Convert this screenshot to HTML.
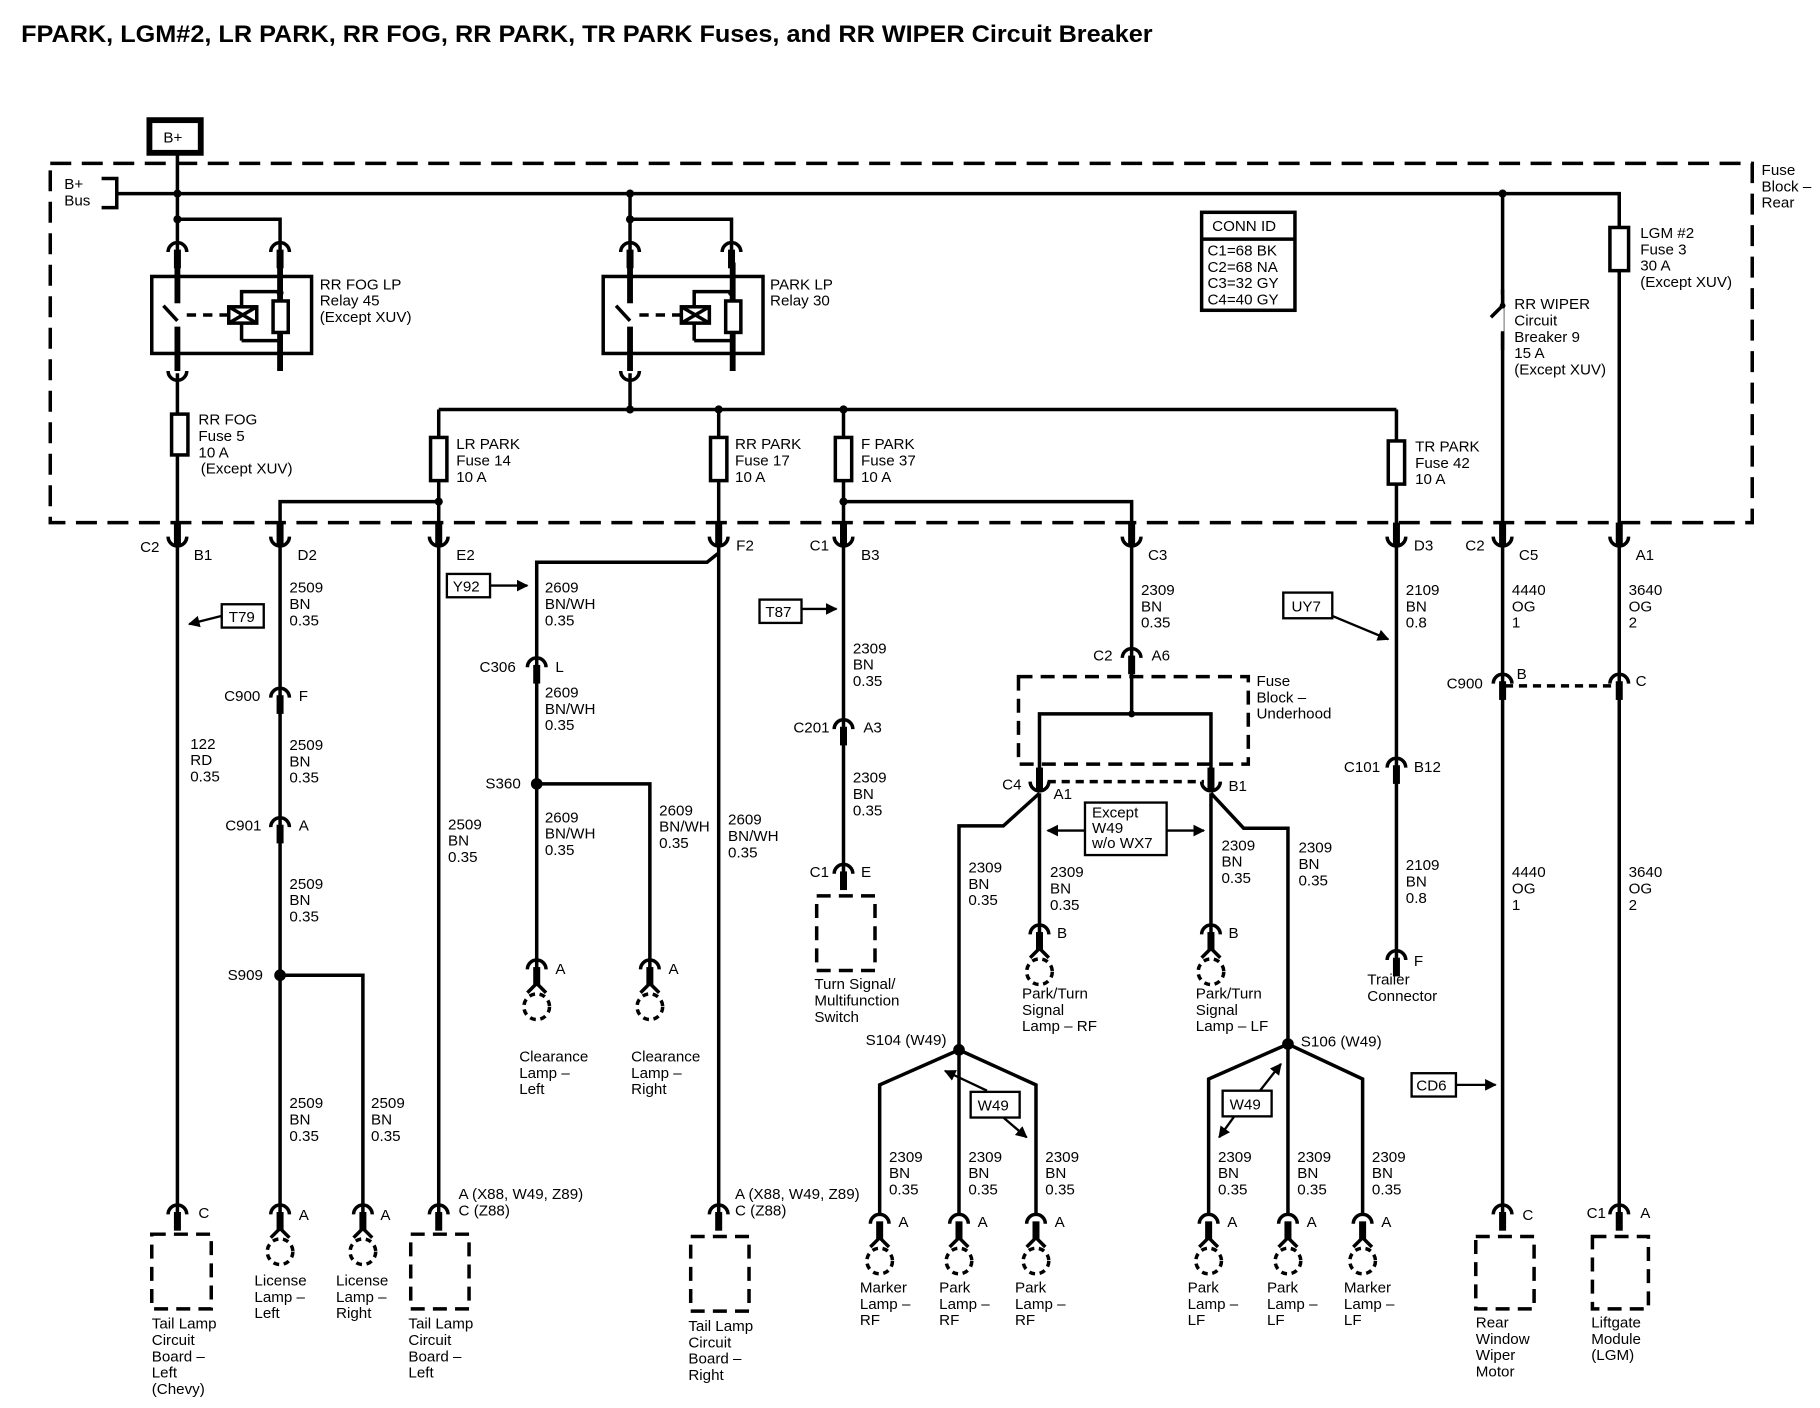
<!DOCTYPE html>
<html><head><meta charset="utf-8"><style>
html,body{margin:0;padding:0;background:#fff}
svg{display:block}
text{font-family:"Liberation Sans",sans-serif;font-size:13px;fill:#000}
</style></head><body>
<svg width="1820" height="1408" viewBox="0 0 1560 1207" xmlns="http://www.w3.org/2000/svg">
<defs>
<g id="up"><path d="M-8,-2 A8,8 0 0 0 8,-2" fill="none" stroke="#000" stroke-width="3"/><line x1="0" y1="-14" x2="0" y2="6" stroke="#000" stroke-width="6"/></g>
<g id="dn"><path d="M-8,6 A8,8 0 0 1 8,6" fill="none" stroke="#000" stroke-width="3"/><line x1="0" y1="4" x2="0" y2="20" stroke="#000" stroke-width="6"/></g>
<g id="lamp"><path d="M-8,6 A8,8 0 0 1 8,6" fill="none" stroke="#000" stroke-width="3"/><line x1="0" y1="4" x2="0" y2="20" stroke="#000" stroke-width="6"/><path d="M-8,26 L0,18 L8,26" fill="none" stroke="#000" stroke-width="3"/><circle cx="0" cy="38" r="11" fill="none" stroke="#000" stroke-width="3" stroke-dasharray="5,4"/></g>
<marker id="ar" viewBox="0 0 10 10" refX="9" refY="5" markerWidth="5" markerHeight="5" orient="auto"><path d="M0,0 L10,5 L0,10z"/></marker>
</defs>
<text x="18" y="36" style="font-size:21px;font-weight:bold" textLength="970" lengthAdjust="spacingAndGlyphs">FPARK, LGM#2, LR PARK, RR FOG, RR PARK, TR PARK Fuses, and RR WIPER Circuit Breaker</text>

<g fill="none" stroke="#000" stroke-width="3">
<rect x="128" y="103" width="44" height="28" stroke-width="5"/>
<rect x="43" y="140" width="1459" height="308" stroke-dasharray="18,9"/>
<path d="M87,153 H100 V178 H87"/>
<path d="M100,166 H1388 V195"/>
<path d="M152,131 V215 M152,188 H240 V215 M540,166 V215 M540,188 H627 V215"/>
<path d="M1288,166 V460"/>
<path d="M1388,232 V460"/>
<rect x="1380" y="195" width="16" height="37"/>
<rect x="130" y="237" width="137" height="66"/>
<rect x="517" y="237" width="137" height="66"/>
</g>
<text x="140" y="122" style="font-size:13px">B+</text>
<text x="55" y="162">B+<tspan x="55" dy="14">Bus</tspan></text>
<text x="1510" y="150">Fuse<tspan x="1510" dy="14">Block –</tspan><tspan x="1510" dy="14">Rear</tspan></text>

<g fill="none" stroke="#000" stroke-width="3">
<g id="rel">
<line x1="152" y1="225" x2="152" y2="260" stroke-width="5"/>
<line x1="152" y1="275" x2="140" y2="262"/>
<line x1="152" y1="280" x2="152" y2="318" stroke-width="5"/>
<line x1="240" y1="225" x2="240" y2="318" stroke-width="5"/>
<path d="M207,292 V250 H240 M207,292 H240"/>
<line x1="160" y1="270" x2="196" y2="270" stroke-dasharray="8,6"/>
<rect x="196" y="263" width="24" height="14" fill="#fff"/>
<path d="M196,263 L220,277 M220,263 L196,277"/>
<rect x="234" y="258" width="13" height="27" fill="#fff"/>
</g>
<use href="#rel" x="388"/>
</g>
<use href="#dn" x="152" y="210"/><use href="#dn" x="240" y="210"/>
<use href="#dn" x="540" y="210"/><use href="#dn" x="627" y="210"/>
<g fill="none" stroke="#000" stroke-width="3">
<path d="M144,318 A8,8 0 0 0 160,318 M532,318 A8,8 0 0 0 548,318"/>
<path d="M152,320 V460 M540,320 V351"/>
<path d="M376,351 H1197 M376,351 V460 M616,351 V460 M723,351 V460 M1197,351 V460"/>
<path d="M240,460 V430 H376 M723,430 H970 V460"/>
<rect x="147" y="355" width="14" height="35" fill="#fff"/>
<rect x="369" y="375" width="14" height="37" fill="#fff"/>
<rect x="609" y="375" width="14" height="37" fill="#fff"/>
<rect x="716" y="375" width="14" height="37" fill="#fff"/>
<rect x="1190" y="378" width="14" height="37" fill="#fff"/>
<rect x="1030" y="182" width="80" height="84"/>
<line x1="1030" y1="205" x2="1110" y2="205"/>
</g>
<path d="M1286,253 V286" stroke="#fff" stroke-width="6"/>
<path d="M1288,248 V262 L1278,272 M1288,284 V300" fill="none" stroke="#000" stroke-width="3"/>
<circle cx="1288" cy="262" r="2.5"/>
<g fill="#000">
<circle cx="152" cy="166" r="3.5"/><circle cx="152" cy="188" r="3.5"/>
<circle cx="540" cy="166" r="3.5"/><circle cx="540" cy="188" r="3.5"/>
<circle cx="540" cy="351" r="3.5"/><circle cx="616" cy="351" r="3.5"/><circle cx="723" cy="351" r="3.5"/>
<circle cx="376" cy="430" r="3.5"/><circle cx="723" cy="430" r="3.5"/><circle cx="1288" cy="166" r="3.5"/>
<circle cx="240" cy="251" r="3"/><circle cx="627" cy="251" r="3"/>
</g>
<text x="1039" y="198">CONN ID</text>
<text x="1035" y="219">C1=68 BK<tspan x="1035" dy="14">C2=68 NA</tspan><tspan x="1035" dy="14">C3=32 GY</tspan><tspan x="1035" dy="14">C4=40 GY</tspan></text>
<text x="274" y="248">RR FOG LP<tspan x="274" dy="14">Relay 45</tspan><tspan x="274" dy="14">(Except XUV)</tspan></text>
<text x="660" y="248">PARK LP<tspan x="660" dy="14">Relay 30</tspan></text>
<text x="170" y="364">RR FOG<tspan x="170" dy="14">Fuse 5</tspan><tspan x="170" dy="14">10 A</tspan><tspan x="172" dy="14">(Except XUV)</tspan></text>
<text x="391" y="385">LR PARK<tspan x="391" dy="14">Fuse 14</tspan><tspan x="391" dy="14">10 A</tspan></text>
<text x="630" y="385">RR PARK<tspan x="630" dy="14">Fuse 17</tspan><tspan x="630" dy="14">10 A</tspan></text>
<text x="738" y="385">F PARK<tspan x="738" dy="14">Fuse 37</tspan><tspan x="738" dy="14">10 A</tspan></text>
<text x="1213" y="387">TR PARK<tspan x="1213" dy="14">Fuse 42</tspan><tspan x="1213" dy="14">10 A</tspan></text>
<text x="1406" y="204">LGM #2<tspan x="1406" dy="14">Fuse 3</tspan><tspan x="1406" dy="14">30 A</tspan><tspan x="1406" dy="14">(Except XUV)</tspan></text>
<text x="1298" y="265">RR WIPER<tspan x="1298" dy="14">Circuit</tspan><tspan x="1298" dy="14">Breaker 9</tspan><tspan x="1298" dy="14">15 A</tspan><tspan x="1298" dy="14">(Except XUV)</tspan></text>

<g>
<use href="#up" x="152" y="462"/><use href="#up" x="240" y="462"/><use href="#up" x="376" y="462"/>
<use href="#up" x="616" y="462"/><use href="#up" x="723" y="462"/><use href="#up" x="970" y="462"/>
<use href="#up" x="1197" y="462"/><use href="#up" x="1288" y="462"/><use href="#up" x="1388" y="462"/>
</g>
<text x="120" y="473">C2</text><text x="166" y="480">B1</text><text x="255" y="480">D2</text>
<text x="391" y="480">E2</text><text x="631" y="472">F2</text><text x="694" y="472">C1</text>
<text x="738" y="480">B3</text><text x="984" y="480">C3</text><text x="1212" y="472">D3</text>
<text x="1256" y="472">C2</text><text x="1302" y="480">C5</text><text x="1402" y="480">A1</text>

<g fill="none" stroke="#000" stroke-width="3">
<path d="M152,468 V1040"/>
<path d="M240,468 V1040 M240,836 H311 V1040"/>
<path d="M376,468 V1040"/>
<path d="M616,468 V1040 M616,474 L606,482 H460 V830 M460,672 H557 V830"/>
<path d="M723,468 V748"/>
<path d="M970,468 V612 M891,660 V612 H1038 V660"/>
<path d="M891,680 L860,708 H822 V1040 M891,680 V800 M1038,680 V800 M1038,680 L1066,710 H1104 V1040"/>
<path d="M822,900 L754,930 V1040 M822,900 L888,930 V1040"/>
<path d="M1104,895 L1036,925 V1040 M1104,895 L1168,925 V1040"/>
<path d="M1197,468 V822"/>
<path d="M1288,468 V1040 M1388,468 V1040"/>
<rect x="873" y="580" width="197" height="75" stroke-dasharray="12,7"/>
<path d="M898,670 H1032 M1290,588 H1386" stroke-dasharray="7,5"/>
<rect x="700" y="768" width="50" height="64" stroke-dasharray="12,7"/>
<rect x="130" y="1058" width="51" height="64" stroke-dasharray="12,7"/>
<rect x="352" y="1058" width="50" height="64" stroke-dasharray="12,7"/>
<rect x="592" y="1060" width="50" height="64" stroke-dasharray="12,7"/>
<rect x="1265" y="1060" width="50" height="62" stroke-dasharray="12,7"/>
<rect x="1365" y="1060" width="48" height="62" stroke-dasharray="12,7"/>
<rect x="190" y="518" width="36" height="20" stroke-width="2"/>
<rect x="383" y="492" width="37" height="20" stroke-width="2"/>
<rect x="651" y="514" width="36" height="20" stroke-width="2"/>
<rect x="1100" y="508" width="42" height="22" stroke-width="2"/>
<rect x="1210" y="920" width="38" height="20" stroke-width="2"/>
<rect x="930" y="688" width="70" height="45" stroke-width="2"/>
<rect x="832" y="936" width="42" height="22" stroke-width="2"/>
<rect x="1048" y="935" width="42" height="22" stroke-width="2"/>
</g>
<g stroke="#000" stroke-width="2" fill="none">
<line x1="190" y1="528" x2="162" y2="535" marker-end="url(#ar)"/>
<line x1="420" y1="502" x2="452" y2="502" marker-end="url(#ar)"/>
<line x1="687" y1="522" x2="717" y2="522" marker-end="url(#ar)"/>
<line x1="1142" y1="528" x2="1190" y2="548" marker-end="url(#ar)"/>
<line x1="1248" y1="930" x2="1282" y2="930" marker-end="url(#ar)"/>
<line x1="930" y1="712" x2="898" y2="712" marker-end="url(#ar)"/>
<line x1="1000" y1="712" x2="1032" y2="712" marker-end="url(#ar)"/>
<line x1="846" y1="935" x2="810" y2="918" marker-end="url(#ar)"/>
<line x1="860" y1="958" x2="880" y2="975" marker-end="url(#ar)"/>
<line x1="1058" y1="957" x2="1045" y2="975" marker-end="url(#ar)"/>
<line x1="1080" y1="935" x2="1098" y2="912" marker-end="url(#ar)"/>
</g>
<g fill="#000">
<circle cx="240" cy="836" r="5"/><circle cx="460" cy="672" r="5"/>
<circle cx="970" cy="612" r="3"/><circle cx="822" cy="900" r="5"/><circle cx="1104" cy="895" r="5"/>
</g>
<use href="#dn" x="240" y="592"/><use href="#dn" x="240" y="703"/>
<use href="#dn" x="460" y="566"/><use href="#dn" x="723" y="619"/>
<use href="#dn" x="970" y="558"/><use href="#dn" x="1197" y="652"/>
<use href="#dn" x="1288" y="580"/><use href="#dn" x="1388" y="580"/>
<use href="#dn" x="723" y="743"/>
<use href="#up" x="891" y="672"/><use href="#up" x="1038" y="672"/>
<use href="#dn" x="1197" y="817"/>
<use href="#dn" x="152" y="1035"/><use href="#dn" x="376" y="1035"/><use href="#dn" x="616" y="1035"/>
<use href="#dn" x="1288" y="1035"/><use href="#dn" x="1388" y="1035"/>
<use href="#lamp" x="240" y="1035"/><use href="#lamp" x="311" y="1035"/>
<use href="#lamp" x="460" y="825"/><use href="#lamp" x="557" y="825"/>
<use href="#lamp" x="891" y="795"/><use href="#lamp" x="1038" y="795"/>
<use href="#lamp" x="754" y="1043"/><use href="#lamp" x="822" y="1043"/><use href="#lamp" x="888" y="1043"/>
<use href="#lamp" x="1036" y="1043"/><use href="#lamp" x="1104" y="1043"/><use href="#lamp" x="1168" y="1043"/>

<text x="196" y="533">T79</text><text x="388" y="507">Y92</text><text x="656" y="529">T87</text>
<text x="1107" y="524">UY7</text><text x="1214" y="935">CD6</text>
<text x="936" y="701">Except<tspan x="936" dy="13">W49</tspan><tspan x="936" dy="13">w/o WX7</tspan></text>
<text x="838" y="952">W49</text><text x="1054" y="951">W49</text>

<text x="163" y="642">122<tspan x="163" dy="14">RD</tspan><tspan x="163" dy="14">0.35</tspan></text>
<text x="248" y="508">2509<tspan x="248" dy="14">BN</tspan><tspan x="248" dy="14">0.35</tspan></text>
<text x="192" y="601">C900</text><text x="256" y="601">F</text>
<text x="248" y="643">2509<tspan x="248" dy="14">BN</tspan><tspan x="248" dy="14">0.35</tspan></text>
<text x="193" y="712">C901</text><text x="256" y="712">A</text>
<text x="248" y="762">2509<tspan x="248" dy="14">BN</tspan><tspan x="248" dy="14">0.35</tspan></text>
<text x="195" y="840">S909</text>
<text x="248" y="950">2509<tspan x="248" dy="14">BN</tspan><tspan x="248" dy="14">0.35</tspan></text>
<text x="318" y="950">2509<tspan x="318" dy="14">BN</tspan><tspan x="318" dy="14">0.35</tspan></text>
<text x="384" y="711">2509<tspan x="384" dy="14">BN</tspan><tspan x="384" dy="14">0.35</tspan></text>
<text x="467" y="508">2609<tspan x="467" dy="14">BN/WH</tspan><tspan x="467" dy="14">0.35</tspan></text>
<text x="411" y="576">C306</text><text x="476" y="576">L</text>
<text x="467" y="598">2609<tspan x="467" dy="14">BN/WH</tspan><tspan x="467" dy="14">0.35</tspan></text>
<text x="416" y="676">S360</text>
<text x="467" y="705">2609<tspan x="467" dy="14">BN/WH</tspan><tspan x="467" dy="14">0.35</tspan></text>
<text x="565" y="699">2609<tspan x="565" dy="14">BN/WH</tspan><tspan x="565" dy="14">0.35</tspan></text>
<text x="624" y="707">2609<tspan x="624" dy="14">BN/WH</tspan><tspan x="624" dy="14">0.35</tspan></text>
<text x="731" y="560">2309<tspan x="731" dy="14">BN</tspan><tspan x="731" dy="14">0.35</tspan></text>
<text x="680" y="628">C201</text><text x="740" y="628">A3</text>
<text x="731" y="671">2309<tspan x="731" dy="14">BN</tspan><tspan x="731" dy="14">0.35</tspan></text>
<text x="694" y="752">C1</text><text x="738" y="752">E</text>
<text x="978" y="510">2309<tspan x="978" dy="14">BN</tspan><tspan x="978" dy="14">0.35</tspan></text>
<text x="937" y="566">C2</text><text x="987" y="566">A6</text>
<text x="1077" y="588">Fuse<tspan x="1077" dy="14">Block –</tspan><tspan x="1077" dy="14">Underhood</tspan></text>
<text x="859" y="677">C4</text><text x="903" y="685">A1</text><text x="1053" y="678">B1</text>
<text x="830" y="748">2309<tspan x="830" dy="14">BN</tspan><tspan x="830" dy="14">0.35</tspan></text>
<text x="900" y="752">2309<tspan x="900" dy="14">BN</tspan><tspan x="900" dy="14">0.35</tspan></text>
<text x="1047" y="729">2309<tspan x="1047" dy="14">BN</tspan><tspan x="1047" dy="14">0.35</tspan></text>
<text x="1113" y="731">2309<tspan x="1113" dy="14">BN</tspan><tspan x="1113" dy="14">0.35</tspan></text>
<text x="742" y="896">S104 (W49)</text><text x="1115" y="897">S106 (W49)</text>
<text x="762" y="996">2309<tspan x="762" dy="14">BN</tspan><tspan x="762" dy="14">0.35</tspan></text>
<text x="830" y="996">2309<tspan x="830" dy="14">BN</tspan><tspan x="830" dy="14">0.35</tspan></text>
<text x="896" y="996">2309<tspan x="896" dy="14">BN</tspan><tspan x="896" dy="14">0.35</tspan></text>
<text x="1044" y="996">2309<tspan x="1044" dy="14">BN</tspan><tspan x="1044" dy="14">0.35</tspan></text>
<text x="1112" y="996">2309<tspan x="1112" dy="14">BN</tspan><tspan x="1112" dy="14">0.35</tspan></text>
<text x="1176" y="996">2309<tspan x="1176" dy="14">BN</tspan><tspan x="1176" dy="14">0.35</tspan></text>
<text x="1205" y="510">2109<tspan x="1205" dy="14">BN</tspan><tspan x="1205" dy="14">0.8</tspan></text>
<text x="1152" y="662">C101</text><text x="1212" y="662">B12</text>
<text x="1205" y="746">2109<tspan x="1205" dy="14">BN</tspan><tspan x="1205" dy="14">0.8</tspan></text>
<text x="1212" y="828">F</text>
<text x="1296" y="510">4440<tspan x="1296" dy="14">OG</tspan><tspan x="1296" dy="14">1</tspan></text>
<text x="1240" y="590">C900</text><text x="1300" y="582">B</text><text x="1402" y="588">C</text>
<text x="1296" y="752">4440<tspan x="1296" dy="14">OG</tspan><tspan x="1296" dy="14">1</tspan></text>
<text x="1396" y="510">3640<tspan x="1396" dy="14">OG</tspan><tspan x="1396" dy="14">2</tspan></text>
<text x="1396" y="752">3640<tspan x="1396" dy="14">OG</tspan><tspan x="1396" dy="14">2</tspan></text>

<text x="170" y="1044">C</text><text x="256" y="1046">A</text><text x="326" y="1046">A</text>
<text x="393" y="1028">A (X88, W49, Z89)<tspan x="393" dy="14">C (Z88)</tspan></text>
<text x="630" y="1028">A (X88, W49, Z89)<tspan x="630" dy="14">C (Z88)</tspan></text>
<text x="476" y="835">A</text><text x="573" y="835">A</text>
<text x="906" y="804">B</text><text x="1053" y="804">B</text>
<text x="770" y="1052">A</text><text x="838" y="1052">A</text><text x="904" y="1052">A</text>
<text x="1052" y="1052">A</text><text x="1120" y="1052">A</text><text x="1184" y="1052">A</text>
<text x="1305" y="1046">C</text><text x="1360" y="1044">C1</text><text x="1406" y="1044">A</text>

<text x="130" y="1139">Tail Lamp<tspan x="130" dy="14">Circuit</tspan><tspan x="130" dy="14">Board –</tspan><tspan x="130" dy="14">Left</tspan><tspan x="130" dy="14">(Chevy)</tspan></text>
<text x="218" y="1102">License<tspan x="218" dy="14">Lamp –</tspan><tspan x="218" dy="14">Left</tspan></text>
<text x="288" y="1102">License<tspan x="288" dy="14">Lamp –</tspan><tspan x="288" dy="14">Right</tspan></text>
<text x="350" y="1139">Tail Lamp<tspan x="350" dy="14">Circuit</tspan><tspan x="350" dy="14">Board –</tspan><tspan x="350" dy="14">Left</tspan></text>
<text x="445" y="910">Clearance<tspan x="445" dy="14">Lamp –</tspan><tspan x="445" dy="14">Left</tspan></text>
<text x="541" y="910">Clearance<tspan x="541" dy="14">Lamp –</tspan><tspan x="541" dy="14">Right</tspan></text>
<text x="590" y="1141">Tail Lamp<tspan x="590" dy="14">Circuit</tspan><tspan x="590" dy="14">Board –</tspan><tspan x="590" dy="14">Right</tspan></text>
<text x="698" y="848">Turn Signal/<tspan x="698" dy="14">Multifunction</tspan><tspan x="698" dy="14">Switch</tspan></text>
<text x="876" y="856">Park/Turn<tspan x="876" dy="14">Signal</tspan><tspan x="876" dy="14">Lamp – RF</tspan></text>
<text x="1025" y="856">Park/Turn<tspan x="1025" dy="14">Signal</tspan><tspan x="1025" dy="14">Lamp – LF</tspan></text>
<text x="1172" y="844">Trailer<tspan x="1172" dy="14">Connector</tspan></text>
<text x="737" y="1108">Marker<tspan x="737" dy="14">Lamp –</tspan><tspan x="737" dy="14">RF</tspan></text>
<text x="805" y="1108">Park<tspan x="805" dy="14">Lamp –</tspan><tspan x="805" dy="14">RF</tspan></text>
<text x="870" y="1108">Park<tspan x="870" dy="14">Lamp –</tspan><tspan x="870" dy="14">RF</tspan></text>
<text x="1018" y="1108">Park<tspan x="1018" dy="14">Lamp –</tspan><tspan x="1018" dy="14">LF</tspan></text>
<text x="1086" y="1108">Park<tspan x="1086" dy="14">Lamp –</tspan><tspan x="1086" dy="14">LF</tspan></text>
<text x="1152" y="1108">Marker<tspan x="1152" dy="14">Lamp –</tspan><tspan x="1152" dy="14">LF</tspan></text>
<text x="1265" y="1138">Rear<tspan x="1265" dy="14">Window</tspan><tspan x="1265" dy="14">Wiper</tspan><tspan x="1265" dy="14">Motor</tspan></text>
<text x="1364" y="1138">Liftgate<tspan x="1364" dy="14">Module</tspan><tspan x="1364" dy="14">(LGM)</tspan></text>
</svg>
</body></html>
